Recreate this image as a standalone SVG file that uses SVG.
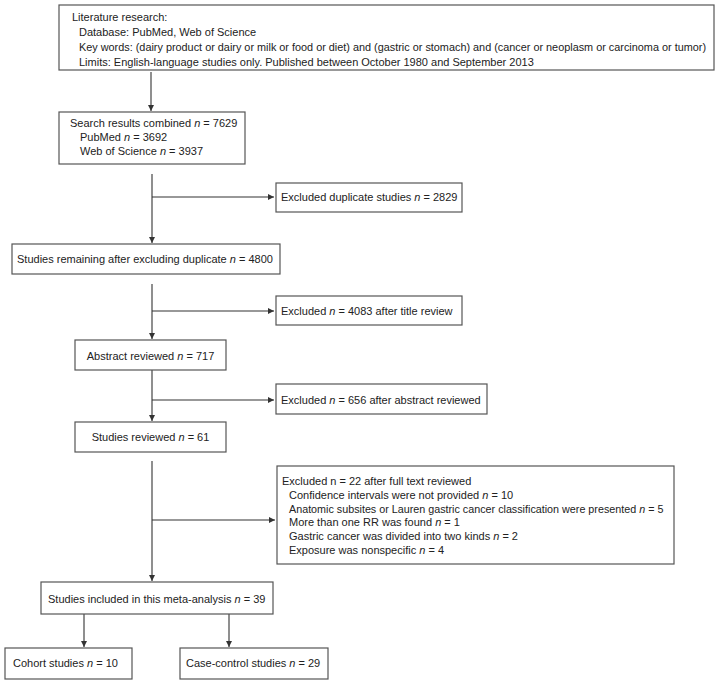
<svg xmlns="http://www.w3.org/2000/svg" width="728" height="683" viewBox="0 0 728 683">
<style>
  .box { fill: #ffffff; stroke: #555555; stroke-width: 1.2; }
  .t { font-family: "Liberation Sans", Arial, sans-serif; font-size: 11px; fill: #222222; }
  .i { font-style: italic; }
  .conn { fill: none; stroke: #333333; stroke-width: 1.1; }
</style>
<defs>
  <marker id="arr" markerUnits="userSpaceOnUse" markerWidth="6" markerHeight="6" refX="6" refY="3" orient="auto">
    <path d="M0,0 L6,3 L0,6 z" fill="#333333"/>
  </marker>
</defs>
<rect x="0" y="0" width="728" height="683" fill="#ffffff"/>

<g id="connectors">
  <line class="conn" x1="151" y1="72" x2="151" y2="111" marker-end="url(#arr)"/>
  <line class="conn" x1="152" y1="174" x2="152" y2="243" marker-end="url(#arr)"/>
  <line class="conn" x1="152" y1="197" x2="274" y2="197" marker-end="url(#arr)"/>
  <line class="conn" x1="152" y1="284" x2="152" y2="339" marker-end="url(#arr)"/>
  <line class="conn" x1="152" y1="311" x2="274" y2="311" marker-end="url(#arr)"/>
  <line class="conn" x1="152" y1="370" x2="152" y2="421" marker-end="url(#arr)"/>
  <line class="conn" x1="152" y1="400" x2="274" y2="400" marker-end="url(#arr)"/>
  <line class="conn" x1="152" y1="461" x2="152" y2="581" marker-end="url(#arr)"/>
  <line class="conn" x1="152" y1="520" x2="275" y2="520" marker-end="url(#arr)"/>
  <line class="conn" x1="84" y1="614" x2="84" y2="647" marker-end="url(#arr)"/>
  <line class="conn" x1="229" y1="614" x2="229" y2="647" marker-end="url(#arr)"/>
</g>

<g id="literature">
  <rect class="box" x="59" y="5" width="655" height="65"/>
  <text class="t" x="72" y="21">Literature research:</text>
  <text class="t" x="79" y="36">Database: PubMed, Web of Science</text>
  <text class="t" x="79" y="51" textLength="627" lengthAdjust="spacingAndGlyphs">Key words: (dairy product or dairy or milk or food or diet) and (gastric or stomach) and (cancer or neoplasm or carcinoma or tumor)</text>
  <text class="t" x="79" y="66">Limits: English-language studies only. Published between October 1980 and September 2013</text>
</g>

<g id="search">
  <rect class="box" x="59" y="112" width="186" height="52"/>
  <text class="t" x="70" y="127">Search results combined <tspan class="i">n</tspan> = 7629</text>
  <text class="t" x="80" y="141">PubMed <tspan class="i">n</tspan> = 3692</text>
  <text class="t" x="80" y="155">Web of Science <tspan class="i">n</tspan> = 3937</text>
</g>

<g id="excl-dup">
  <rect class="box" x="276" y="183" width="186" height="29"/>
  <text class="t" x="281" y="201">Excluded duplicate studies <tspan class="i">n</tspan> = 2829</text>
</g>

<g id="remaining">
  <rect class="box" x="12" y="244" width="268" height="30"/>
  <text class="t" x="17" y="263">Studies remaining after excluding duplicate <tspan class="i">n</tspan> = 4800</text>
</g>

<g id="excl-title">
  <rect class="box" x="276" y="296" width="186" height="29"/>
  <text class="t" x="281" y="315">Excluded <tspan class="i">n</tspan> = 4083 after title review</text>
</g>

<g id="abstract">
  <rect class="box" x="75" y="340" width="151" height="30"/>
  <text class="t" x="150.5" y="360" text-anchor="middle">Abstract reviewed <tspan class="i">n</tspan> = 717</text>
</g>

<g id="excl-abstract">
  <rect class="box" x="276" y="384" width="211" height="30"/>
  <text class="t" x="281" y="404">Excluded <tspan class="i">n</tspan> = 656 after abstract reviewed</text>
</g>

<g id="reviewed">
  <rect class="box" x="75" y="422" width="151" height="30"/>
  <text class="t" x="150.5" y="441" text-anchor="middle">Studies reviewed <tspan class="i">n</tspan> = 61</text>
</g>

<g id="excl-full">
  <rect class="box" x="277" y="466" width="397" height="98"/>
  <text class="t" x="282" y="485">Excluded n = 22 after full text reviewed</text>
  <text class="t" x="289" y="499">Confidence intervals were not provided <tspan class="i">n</tspan> = 10</text>
  <text class="t" x="289" y="513" style="font-size:10.75px">Anatomic subsites or Lauren gastric cancer classification were presented <tspan class="i">n</tspan> = 5</text>
  <text class="t" x="289" y="526">More than one RR was found <tspan class="i">n</tspan> = 1</text>
  <text class="t" x="289" y="540">Gastric cancer was divided into two kinds <tspan class="i">n</tspan> = 2</text>
  <text class="t" x="289" y="554">Exposure was nonspecific <tspan class="i">n</tspan> = 4</text>
</g>

<g id="included">
  <rect class="box" x="41" y="582" width="232" height="32"/>
  <text class="t" x="48" y="603">Studies included in this meta-analysis <tspan class="i">n</tspan> = 39</text>
</g>

<g id="cohort">
  <rect class="box" x="5" y="648" width="127" height="31"/>
  <text class="t" x="13" y="667">Cohort studies <tspan class="i">n</tspan> = 10</text>
</g>

<g id="case-control">
  <rect class="box" x="180" y="648" width="148" height="31"/>
  <text class="t" x="186" y="667">Case-control studies <tspan class="i">n</tspan> = 29</text>
</g>
</svg>
